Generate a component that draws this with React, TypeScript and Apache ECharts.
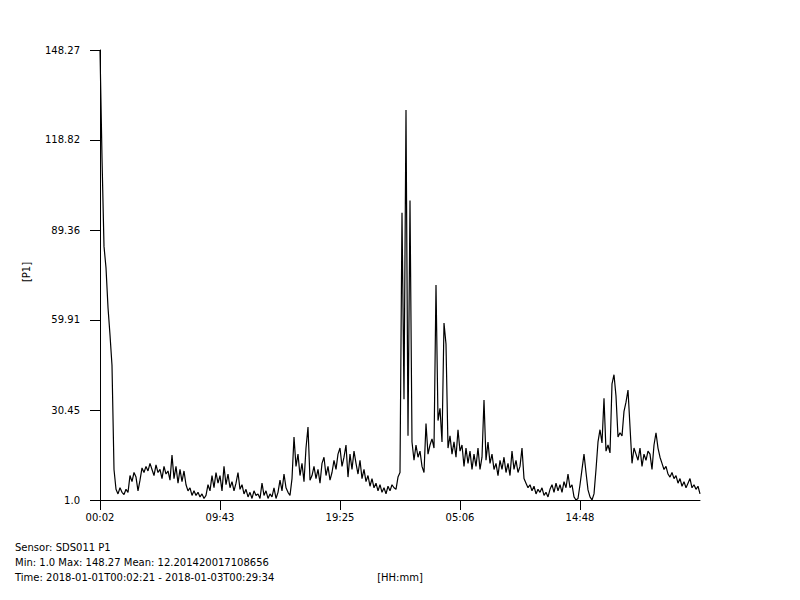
import React, { useEffect, useRef } from "react";
import * as echarts from "echarts";

// Time range of the record
const START = Date.UTC(2018, 0, 1, 0, 2, 21);
const END = Date.UTC(2018, 0, 3, 0, 29, 34);
const SPAN = END - START;

// P1 readings, evenly spaced over the time range (301 samples)
const p1Values: number[] = [
  148.27, 113, 84, 77, 64, 55, 45, 11, 4.5, 3,
  5, 3.5, 2.8, 4.5, 3.5, 9, 7, 10, 8.5, 4,
  7.5, 11.5, 10, 12, 10.5, 13, 11, 9, 12.5, 10,
  11, 8, 12, 9.5, 10.5, 7.5, 15.7, 8, 12, 6.5,
  11, 7, 10.5, 6, 4, 5, 2.5, 4, 2.5, 3.5,
  2, 3, 1.5, 2.5, 6, 4, 9, 5, 10, 6.5,
  9, 4, 12, 6, 9.5, 5, 7, 4, 6.5, 10,
  4.5, 6, 3, 4.5, 2, 3.5, 1.5, 4, 2.5, 3,
  1.5, 6.5, 2.5, 4, 1.5, 3, 2, 5, 1.5, 3.5,
  7.5, 4, 9.5, 5, 3.5, 2.5, 8, 21.6, 12, 16,
  9, 13, 7, 18, 24.9, 7.5, 9, 12, 8, 11,
  6.5, 13, 15, 9, 12, 7.5, 10, 14, 11, 16,
  18, 12, 15, 19, 8.5, 16, 11, 17, 13, 9.5,
  14, 8, 11, 7, 9, 5.5, 8, 5, 6.5, 4,
  6, 3.5, 5, 3, 5.5, 4, 6, 5, 4.5, 8.5,
  10, 95, 34, 128.6, 22, 99, 20, 14, 19, 15,
  17, 12, 10, 26, 16, 19, 21, 18, 71.4, 27,
  31, 20, 58.9, 52, 18, 22, 16, 20, 15, 24,
  17, 19, 12, 18, 13, 17, 11, 16, 12, 18,
  11, 15, 33.7, 14, 20, 13, 16, 11, 13, 9,
  14, 11, 15, 10, 13, 9, 17, 11, 14, 10,
  12, 18, 8, 6.5, 5, 6, 4, 5.5, 3, 4.5,
  3.5, 5, 2.5, 3.5, 2, 4.5, 6, 3.5, 6.5, 4,
  6, 3.5, 7, 5, 9.5, 5, 6, 2, 1, 1.5,
  6, 11, 16, 10, 4.3, 2, 1, 3, 11, 20,
  24, 19.7, 34.3, 17, 19, 16.4, 39, 42, 35, 21.6,
  23, 22, 30, 33, 37, 25, 13, 18, 16, 14,
  18, 12, 16, 14, 17, 16, 11, 19, 23, 18,
  15, 13, 11, 12, 9.5, 8.5, 10, 8, 9, 6.5,
  8, 5.5, 7, 5, 6.5, 8, 5, 6, 4.5, 5.5,
  3,
];

// Axis tick labels
const yTickValues: number[] = [1.0, 30.45, 59.91, 89.36, 118.82, 148.27];
const yTickLabels: string[] = ["1.0", "30.45", "59.91", "89.36", "118.82", "148.27"];
const xTickLabels: string[] = ["00:02", "09:43", "19:25", "05:06", "14:48"];

const infoLines: string[] = [
  "Sensor: SDS011 P1",
  "Min: 1.0 Max: 148.27 Mean: 12.201420017108656",
  "Time: 2018-01-01T00:02:21 - 2018-01-03T00:29:34",
];

const FONT = "DejaVu Sans";

export default function App() {
  const ref = useRef<HTMLDivElement>(null);

  useEffect(() => {
    if (!ref.current) return;
    const chart = echarts.init(ref.current, undefined, { renderer: "svg" });
    const n = p1Values.length - 1;
    const data = p1Values.map((v, k) => [(k * SPAN) / n, v]);
    const xTickValues = xTickLabels.map((_, i) => (i * SPAN) / 5);

    chart.setOption({
      animation: false,
      backgroundColor: "#ffffff",
      grid: { left: 100, right: 100, top: 50, bottom: 100, containLabel: false },
      xAxis: {
        type: "value",
        min: 0,
        max: SPAN,
        axisLine: { show: true, lineStyle: { color: "#000", width: 1 } },
        axisTick: {
          show: true,
          length: 10,
          lineStyle: { color: "#000", width: 1 },
          customValues: xTickValues,
        },
        axisLabel: {
          customValues: xTickValues,
          formatter: (v: number) => {
            const i = Math.round((v / SPAN) * 5);
            return xTickLabels[i] ?? "";
          },
          color: "#000",
          fontFamily: FONT,
          fontSize: 10,
          margin: 12,
        },
        splitLine: { show: false },
      },
      yAxis: {
        type: "value",
        min: 1.0,
        max: 148.27,
        axisLine: { show: true, lineStyle: { color: "#000", width: 1 } },
        axisTick: {
          show: true,
          length: 10,
          lineStyle: { color: "#000", width: 1 },
          customValues: yTickValues,
        },
        axisLabel: {
          customValues: yTickValues,
          formatter: (v: number) => {
            let best = 0;
            for (let i = 0; i < yTickValues.length; i++) {
              if (Math.abs(yTickValues[i] - v) < Math.abs(yTickValues[best] - v)) best = i;
            }
            return yTickLabels[best];
          },
          color: "#000",
          fontFamily: FONT,
          fontSize: 10,
          margin: 20,
        },
        splitLine: { show: false },
      },
      series: [
        {
          type: "line",
          data,
          showSymbol: false,
          symbol: "none",
          lineStyle: { color: "#000", width: 1.2 },
        },
      ],
      graphic: [
        {
          type: "text",
          x: 26,
          y: 272,
          rotation: Math.PI / 2,
          style: {
            text: "[P1]",
            fill: "#000",
            font: `10px "${FONT}"`,
            align: "center",
            verticalAlign: "middle",
          },
        },
        ...infoLines.map((t, i) => ({
          type: "text",
          x: 15,
          y: 547 + i * 15,
          style: {
            text: t,
            fill: "#000",
            font: `10px "${FONT}"`,
            align: "left",
            verticalAlign: "middle",
          },
        })),
        {
          type: "text",
          x: 400,
          y: 577,
          style: {
            text: "[HH:mm]",
            fill: "#000",
            font: `10px "${FONT}"`,
            align: "center",
            verticalAlign: "middle",
          },
        },
      ],
    });

    return () => chart.dispose();
  }, []);

  return (
    <div
      ref={ref}
      style={{ position: "fixed", left: 0, top: 0, width: 800, height: 600, background: "#fff" }}
    />
  );
}
